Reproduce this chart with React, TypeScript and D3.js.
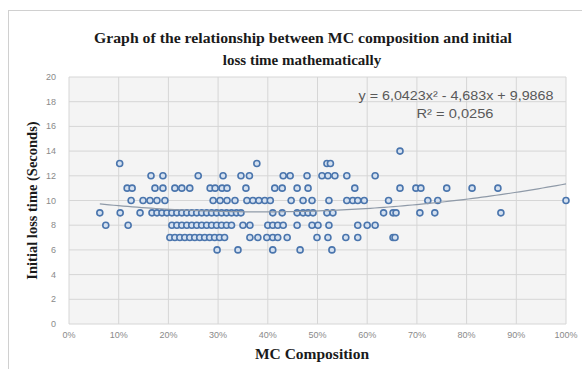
import React from "react";
import * as d3 from "d3";

// MC composition (%) of each sample, grouped by its measured initial loss time (s)
const loss14 = [66.6];
const loss13 = [10.2, 37.8, 51.9, 52.6];
const loss12 = [16.5, 18.9, 26, 31, 34.6, 36.3, 43.1, 44.5, 47.9, 50.9, 52.1, 53.5, 55.9, 61.6];
const loss11 = [11.7, 12.7, 17.3, 18.9, 21.3, 22.7, 24.3, 28.4, 29.4, 30.8, 31.8, 35.6, 41.4, 42.9, 45.9, 48.1, 57.5, 66.6, 69.8, 70.8, 76, 81.1, 86.3];
const loss10 = [12.5, 14.9, 16.3, 17.7, 19.3, 29, 30.4, 31.8, 33.4, 35.8, 37, 38.2, 39.4, 40.5, 44.7, 47.1, 48.9, 52.3, 55.9, 57.1, 58.1, 59.4, 64.3, 72.2, 74.2, 100];
const loss9 = [6.2, 10.3, 14.3, 16.7, 17.7, 18.7, 19.7, 20.7, 21.7, 22.7, 23.7, 24.7, 25.7, 26.7, 27.7, 28.7, 29.7, 30.7, 31.7, 32.7, 33.7, 34.6, 41, 42.9, 45.9, 47.1, 48.1, 49.1, 51.9, 53.1, 63.3, 65.2, 65.8, 70.6, 73.6, 86.9];
const loss8 = [7.4, 11.9, 20.7, 21.7, 22.7, 23.7, 24.7, 25.7, 26.7, 27.7, 28.7, 29.7, 30.7, 31.7, 32.7, 35, 36.4, 40, 41, 42, 43.1, 45.9, 48.9, 50.1, 52.3, 58.1, 60, 61.6];
const loss7 = [20.3, 21.3, 22.3, 23.3, 24.3, 25.3, 26.3, 27.3, 28.3, 29.3, 30.3, 31.3, 36.4, 38, 39.8, 41, 42, 43.9, 49.9, 52.1, 55.7, 58.1, 65.2, 65.6];
const loss6 = [29.8, 34, 41, 46.5, 52.9];

const groups: [number, number[]][] = [
  [14, loss14], [13, loss13], [12, loss12], [11, loss11], [10, loss10],
  [9, loss9], [8, loss8], [7, loss7], [6, loss6],
];

// Polynomial trend line coefficients (x as a fraction of 1)
const trendA = 6.0423;
const trendB = -4.683;
const trendC = 9.9868;
const equationLabel = "y = 6,0423x\u00B2 - 4,683x + 9,9868";
const r2Label = "R\u00B2 = 0,0256";

const yTicks = [0, 2, 4, 6, 8, 10, 12, 14, 16, 18, 20];
const xTicks = [0, 0.1, 0.2, 0.3, 0.4, 0.5, 0.6, 0.7, 0.8, 0.9, 1];

const W = 582;
const H = 369;
const plot = { left: 69, right: 566, top: 77, bottom: 324 };

export default function App() {
  const x = d3.scaleLinear().domain([0, 1]).range([plot.left, plot.right]);
  const y = d3.scaleLinear().domain([0, 20]).range([plot.bottom, plot.top]);

  const points = groups.flatMap(([t, xs]) => xs.map((p) => ({ mc: p / 100, t })));
  const [minX, maxX] = d3.extent(points, (d) => d.mc) as [number, number];
  const trendXs = d3.range(0, 101).map((i) => minX + ((maxX - minX) * i) / 100);
  const trendPath = d3
    .line<number>()
    .x((v) => x(v))
    .y((v) => y(trendA * v * v + trendB * v + trendC))(trendXs);

  const fmtPct = d3.format(".0%");
  const serif = "'Liberation Serif', 'Times New Roman', serif";
  const sans = "'Liberation Sans', Arial, sans-serif";

  return (
    <svg
      width={W}
      height={H}
      style={{ position: "absolute", left: 0, top: 0, background: "#fff" }}
    >
      <rect x={8.5} y={10.5} width={W} height={H} fill="#fff" stroke="#d0d0d0" />
      <rect
        x={plot.left}
        y={plot.top}
        width={plot.right - plot.left}
        height={plot.bottom - plot.top}
        fill="#f4f4f4"
      />
      {yTicks.map((t) => (
        <line
          key={"gy" + t}
          x1={plot.left}
          x2={plot.right}
          y1={y(t)}
          y2={y(t)}
          stroke="#d6d6d6"
          strokeWidth={1}
        />
      ))}
      {xTicks.map((t) => (
        <line
          key={"gx" + t}
          x1={x(t)}
          x2={x(t)}
          y1={plot.top}
          y2={plot.bottom}
          stroke="#d6d6d6"
          strokeWidth={1}
        />
      ))}
      {yTicks.map((t) => (
        <text
          key={"ty" + t}
          x={plot.left - 13}
          y={y(t) + 3}
          textAnchor="end"
          fontFamily={sans}
          fontSize={9}
          fill="#8a8a8a"
        >
          {t}
        </text>
      ))}
      {xTicks.map((t) => (
        <text
          key={"tx" + t}
          x={x(t)}
          y={338}
          textAnchor="middle"
          fontFamily={sans}
          fontSize={9}
          fill="#8a8a8a"
        >
          {fmtPct(t)}
        </text>
      ))}
      {points.map((d, i) => (
        <circle
          key={i}
          cx={x(d.mc)}
          cy={y(d.t)}
          r={3}
          fill="#d5e1f0"
          stroke="#4a75ad"
          strokeWidth={1.6}
        />
      ))}
      <path d={trendPath ?? ""} fill="none" stroke="#8f9aa8" strokeWidth={1.2} />
      <text
        x={456}
        y={100}
        textAnchor="middle"
        fontFamily={sans}
        fontSize={13}
        fill="#595959"
        textLength={195}
        lengthAdjust="spacingAndGlyphs"
      >
        {equationLabel}
      </text>
      <text
        x={455}
        y={118}
        textAnchor="middle"
        fontFamily={sans}
        fontSize={13}
        fill="#595959"
        textLength={77}
        lengthAdjust="spacingAndGlyphs"
      >
        {r2Label}
      </text>
      <text
        x={303}
        y={43}
        textAnchor="middle"
        fontFamily={serif}
        fontWeight="bold"
        fontSize={15}
        fill="#1a1a1a"
        textLength={418}
        lengthAdjust="spacingAndGlyphs"
      >
        Graph of the relationship between MC composition and initial
      </text>
      <text x={302} y={65} textAnchor="middle" fontFamily={serif} fontWeight="bold" fontSize={15} fill="#1a1a1a">
        loss time mathematically
      </text>
      <text
        transform={`translate(37, ${(plot.top + plot.bottom) / 2}) rotate(-90)`}
        textAnchor="middle"
        fontFamily={serif}
        fontWeight="bold"
        fontSize={14.5}
        fill="#1a1a1a"
      >
        Initial loss time (Seconds)
      </text>
      <text x={312} y={359} textAnchor="middle" fontFamily={serif} fontWeight="bold" fontSize={15.5} fill="#1a1a1a">
        MC Composition
      </text>
    </svg>
  );
}
